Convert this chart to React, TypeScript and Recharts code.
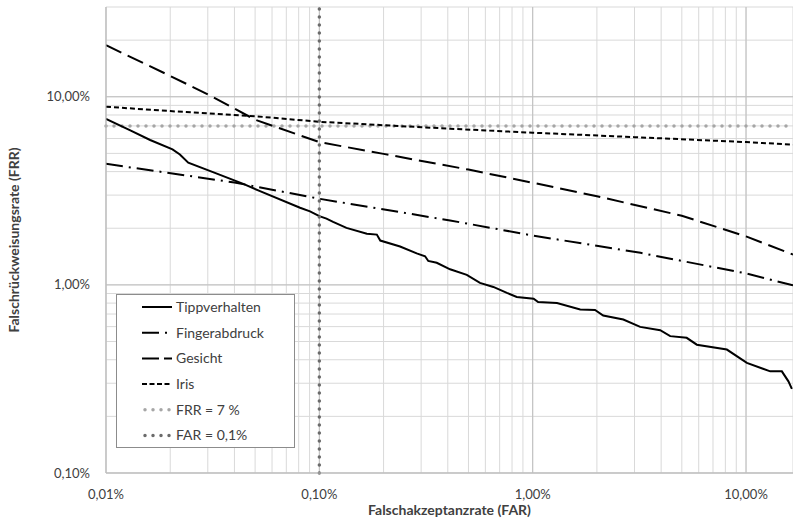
import React from 'react';
import { ComposedChart, Line, XAxis, YAxis, CartesianGrid, ReferenceLine, Label } from 'recharts';

// FAR (x) and FRR (y) values, as fractions
const tippFar = [0.0001, 0.00013, 0.000161, 0.000205, 0.000222, 0.000243, 0.000324, 0.00044, 0.000527, 0.000812, 0.000904, 0.001, 0.00108, 0.00116, 0.00134, 0.00167, 0.00186, 0.00193, 0.00239, 0.00286, 0.00313, 0.00324, 0.00355, 0.0041, 0.00491, 0.00566, 0.00654, 0.00757, 0.00842, 0.0101, 0.0106, 0.013, 0.0167, 0.0196, 0.0214, 0.0266, 0.0319, 0.0396, 0.0441, 0.0527, 0.0588, 0.0813, 0.1009, 0.1298, 0.1472, 0.158, 0.164];
const tippFrr = [0.0763, 0.0662, 0.0589, 0.0525, 0.0493, 0.0446, 0.0394, 0.0344, 0.0315, 0.0257, 0.0246, 0.0232, 0.0225, 0.0216, 0.0201, 0.0187, 0.0185, 0.0172, 0.016, 0.0147, 0.0142, 0.0134, 0.0131, 0.0121, 0.0113, 0.01025, 0.00975, 0.00906, 0.00863, 0.00845, 0.0081, 0.008, 0.0074, 0.00735, 0.00687, 0.00654, 0.00598, 0.00574, 0.00534, 0.00523, 0.00481, 0.00453, 0.00385, 0.00347, 0.00347, 0.00307, 0.0028];

const fingerFar = [0.0001, 0.0004, 0.001, 0.0041, 0.01, 0.032, 0.1, 0.166];
const fingerFrr = [0.044, 0.035, 0.0287, 0.022, 0.0183, 0.0148, 0.0115, 0.00995];

const gesichtFar = [0.0001, 0.0002, 0.0003, 0.0005, 0.001, 0.002, 0.005, 0.01, 0.02, 0.05, 0.1, 0.166];
const gesichtFrr = [0.188, 0.129, 0.103, 0.0755, 0.0574, 0.0497, 0.041, 0.0349, 0.0296, 0.0233, 0.0181, 0.0145];

const irisFar = [0.0001, 0.0002, 0.0005, 0.001, 0.002, 0.0041, 0.01, 0.03, 0.1, 0.166];
const irisFrr = [0.0885, 0.0839, 0.0788, 0.0736, 0.0706, 0.0676, 0.0644, 0.061, 0.0574, 0.0557];

const frrLevel = 0.07;
const farLevel = 0.001;

const xDomain = [0.0001, 0.166];
const yDomain = [0.001, 0.3];
const xDecades = [0.0001, 0.001, 0.01, 0.1];
const yDecades = [0.001, 0.01, 0.1];
const multipliers = [1, 2, 3, 4, 5, 6, 7, 8, 9];

const xTicks = xDecades.flatMap((d) => multipliers.map((m) => +(d * m).toPrecision(6))).filter((v) => v <= xDomain[1]);
const yTicks = yDecades.flatMap((d) => multipliers.map((m) => +(d * m).toPrecision(6))).filter((v) => v <= yDomain[1]);

const toRows = (xs: number[], ys: number[]) => xs.map((x, i) => ({ x, y: ys[i] }));
const tippData = toRows(tippFar, tippFrr);
const fingerData = toRows(fingerFar, fingerFrr);
const gesichtData = toRows(gesichtFar, gesichtFrr);
const irisData = toRows(irisFar, irisFrr);

const isDecade = (v: number) => Math.abs(Math.log10(v) - Math.round(Math.log10(v))) < 1e-6;
const fmt = (v: number) => (isDecade(v) ? (v * 100).toFixed(2).replace('.', ',') + '%' : '');

const FONT = 'Lato, "Open Sans", sans-serif';
const TEXT = '#404040';

const legendItems = [
  { name: 'Tippverhalten', stroke: '#000', dash: undefined as string | undefined, width: 2, cap: 'butt' },
  { name: 'Fingerabdruck', stroke: '#000', dash: '17 6 2 20', width: 2, cap: 'butt' },
  { name: 'Gesicht', stroke: '#000', dash: '17 5', width: 2, cap: 'butt' },
  { name: 'Iris', stroke: '#000', dash: '5 2.5', width: 2, cap: 'butt' },
  { name: 'FRR = 7 %', stroke: '#a6a6a6', dash: '0 8', width: 3.5, cap: 'round' },
  { name: 'FAR = 0,1%', stroke: '#6b6b6b', dash: '0 8', width: 3.5, cap: 'round' },
];

const LegendBox = () => (
  <div style={{ position: 'absolute', left: 116, top: 294, width: 179, height: 154, border: '1px solid #8c8c8c', background: '#fff', boxSizing: 'border-box' }}>
    <svg width={177} height={152} style={{ display: 'block' }}>
      {legendItems.map((it, i) => {
        const y = 12 + i * 25.7;
        return (
          <g key={it.name}>
            <line x1={it.cap === 'round' ? 28 : 25} x2={55} y1={y} y2={y} stroke={it.stroke} strokeWidth={it.width} strokeDasharray={it.dash} strokeLinecap={it.cap as any} />
            <text x={59} y={y} dy="0.35em" fontSize={14} fontFamily={FONT} fill={TEXT}>{it.name}</text>
          </g>
        );
      })}
    </svg>
  </div>
);

export default function App() {
  return (
    <div style={{ position: 'absolute', left: 0, top: 0, width: 793, height: 526, background: '#fff' }}>
      <ComposedChart width={793} height={526} margin={{ top: 7, right: 0, bottom: 0, left: 0 }}>
        <CartesianGrid stroke="#d9d9d9" strokeWidth={1} />
        <XAxis
          dataKey="x"
          type="number"
          scale="log"
          domain={xDomain}
          allowDataOverflow
          ticks={xTicks}
          interval={0}
          tickFormatter={fmt}
          tickLine={false}
          tickSize={0}
          tickMargin={17}
          height={53}
          axisLine={{ stroke: '#bfbfbf' }}
          tick={{ fill: TEXT, fontSize: 13, fontFamily: FONT }}
        >
          <Label value="Falschakzeptanzrate (FAR)" position="insideBottom" offset={11} style={{ fill: TEXT, fontSize: 14, fontWeight: 700, fontFamily: FONT }} />
        </XAxis>
        <YAxis
          dataKey="y"
          type="number"
          scale="log"
          domain={yDomain}
          allowDataOverflow
          ticks={yTicks}
          interval={0}
          tickFormatter={fmt}
          tickLine={false}
          tickSize={0}
          tickMargin={16}
          width={106}
          axisLine={{ stroke: '#bfbfbf' }}
          tick={{ fill: TEXT, fontSize: 13, fontFamily: FONT }}
        >
          <Label
            content={() => (
              <text x={13} y={240} transform="rotate(-90 13 240)" textAnchor="middle" dominantBaseline="central" fontSize={14} fontWeight={700} fontFamily={FONT} fill={TEXT}>
                Falschrückweisungsrate (FRR)
              </text>
            )}
          />
        </YAxis>
        {xDecades.map((d) => (
          <ReferenceLine key={'xd' + d} x={d} stroke="#bfbfbf" strokeWidth={1} />
        ))}
        {yDecades.map((d) => (
          <ReferenceLine key={'yd' + d} y={d} stroke="#bfbfbf" strokeWidth={1} />
        ))}
        <ReferenceLine y={frrLevel} stroke="#a6a6a6" strokeWidth={3.5} strokeDasharray="0 8" strokeLinecap="round" />
        <Line data={irisData} dataKey="y" name="Iris" stroke="#000" strokeWidth={2} strokeDasharray="5 3" dot={false} isAnimationActive={false} type="linear" />
        <Line data={gesichtData} dataKey="y" name="Gesicht" stroke="#000" strokeWidth={2} strokeDasharray="17 7" dot={false} isAnimationActive={false} type="linear" />
        <Line data={fingerData} dataKey="y" name="Fingerabdruck" stroke="#000" strokeWidth={2} strokeDasharray="17 6 2 6" dot={false} isAnimationActive={false} type="linear" />
        <Line data={tippData} dataKey="y" name="Tippverhalten" stroke="#000" strokeWidth={2} dot={false} isAnimationActive={false} type="linear" />
        <ReferenceLine x={farLevel} stroke="#6b6b6b" strokeWidth={3.5} strokeDasharray="0 8" strokeLinecap="round" />
      </ComposedChart>
      <LegendBox />
    </div>
  );
}
